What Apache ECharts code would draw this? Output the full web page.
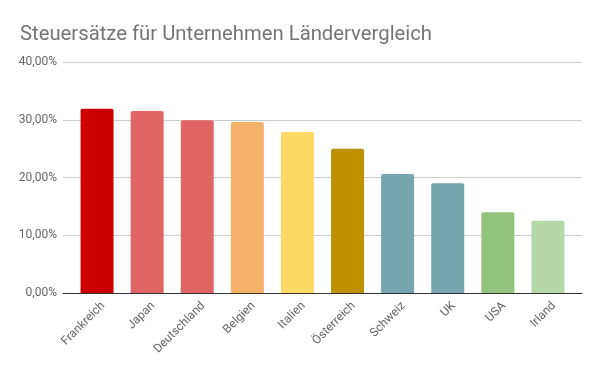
<!DOCTYPE html>
<html>
<head>
<meta charset="utf-8">
<script src="https://cdn.jsdelivr.net/npm/echarts@6/dist/echarts.min.js"></script>
<style>html,body{margin:0;padding:0;background:#fff}#c{width:600px;height:371px}</style>
</head>
<body>
<div id="c"></div>
<script>
const titleText = 'Steuersätze für Unternehmen Ländervergleich';
const categories = ['Frankreich','Japan','Deutschland','Belgien','Italien','Österreich','Schweiz','UK','USA','Irland'];
const rates = [31.9, 31.5, 29.9, 29.6, 27.9, 25.0, 20.6, 19.0, 14.0, 12.5];
const barColors = ['#cc0000','#e06666','#e06666','#f6b26b','#ffd966','#bf9000','#76a5af','#76a5af','#93c47d','#b6d7a8'];
const yTicks = [0, 10, 20, 30, 40];

const chart = echarts.init(document.getElementById('c'), null, {renderer:'canvas'});
const font = 'Roboto, "Liberation Sans", sans-serif';
chart.setOption({
  animation: false,
  backgroundColor: '#ffffff',
  title: {
    text: titleText, left: 15, top: 20,
    textStyle: {fontFamily: font, fontSize: 20.3, fontWeight: 'normal', color: '#757575'}
  },
  grid: [
    {left: 63, right: 18, top: 62, bottom: 78},
    {left: 72, right: 27, top: 62, bottom: 78},
    {left: 78, right: 21, top: 62, bottom: 77}
  ],
  xAxis: [
    {type: 'category', gridIndex: 0, data: [''], axisLine: {show: true, lineStyle: {color: '#333333', width: 1}},
     axisTick: {show: false}, axisLabel: {show: false}, splitLine: {show: false}, z: 5},
    {type: 'category', gridIndex: 1, data: categories, axisLine: {show: false}, axisTick: {show: false},
     axisLabel: {show: false}},
    {type: 'category', gridIndex: 2, data: categories, axisLine: {show: false}, axisTick: {show: false},
     axisLabel: {rotate: 45, margin: 10, fontFamily: font, fontSize: 12, color: '#666666', interval: 0}}
  ],
  yAxis: [
    {type: 'value', gridIndex: 0, min: yTicks[0], max: yTicks[yTicks.length-1], interval: 10,
     axisLine: {show: false}, axisTick: {show: false},
     axisLabel: {fontFamily: font, fontSize: 12, color: '#666666', margin: 6,
       formatter: v => v.toFixed(2).replace('.', ',') + '%'},
     splitLine: {lineStyle: {color: '#cccccc', width: 1}}},
    {type: 'value', gridIndex: 1, min: 0, max: 40, show: false, splitLine: {show: false}},
    {type: 'value', gridIndex: 2, min: 0, max: 40, show: false, splitLine: {show: false}}
  ],
  series: [{
    type: 'bar', xAxisIndex: 1, yAxisIndex: 1, barWidth: 33,
    data: rates.map((v, i) => ({value: v, itemStyle: {color: barColors[i]}})),
    itemStyle: {borderRadius: [2, 2, 0, 0]}
  }]
});
</script>
</body>
</html>
